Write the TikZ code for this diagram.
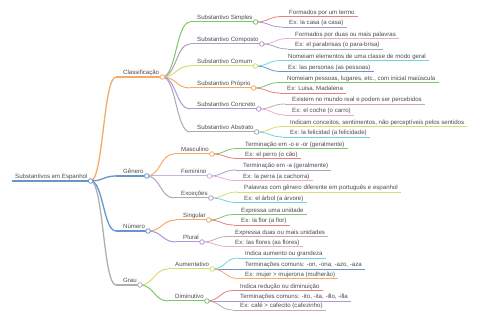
\documentclass[tikz,border=0pt]{standalone}
\usepackage{fontspec}
\setmainfont{Liberation Sans}
\usetikzlibrary{calc}
\definecolor{cblue}{HTML}{6796CA}
\definecolor{corange}{HTML}{F6AA6A}
\definecolor{cgray}{HTML}{AFAFAF}
\definecolor{cgreen}{HTML}{7CC66E}
\definecolor{cmauve}{HTML}{B09DBF}
\definecolor{colive}{HTML}{D8DD72}
\definecolor{cpurple}{HTML}{AC96DC}
\definecolor{cgpurple}{HTML}{ACA6BA}
\definecolor{clav}{HTML}{C9B1E3}
\definecolor{cred}{HTML}{EB7E7E}
\definecolor{cpink}{HTML}{F0A8D6}
\definecolor{ccyan}{HTML}{72D2E3}
\definecolor{cbrown}{HTML}{C5ABAB}
\definecolor{ctext}{HTML}{4A4A4A}
\tikzset{
  txt/.style={inner sep=0pt, text=ctext, font=\fontsize{6.1}{7}\selectfont},
  dot/.style={fill=white, line width=0.8pt},
}
% name, color, width, xs, y, text, text offset
\newcommand\mmnode[7]{%
  \coordinate (#1-s) at (#4,#5);
  \node[txt,anchor=base west] (#1) at (#4+#7,#5-2) {#6};
  \path (#1.base east) ++(3,2) coordinate (#1-e);
  \draw[#2,line width=#3] (#1-s) -- (#1-e);
}
\newcommand\mmleaf[6]{\mmnode{#1}{#2}{#3}{#4}{#5}{#6}{7}}
% color, width, parent, child
\newcommand\mmlink[4]{%
  \draw[#1,line width=#2] let \p1=(#3-e), \p2=(#4-s) in
    (\p1) .. controls ({(\x1+\x2)/2},\y1) and ({(\x1+\x2)/2},\y2) .. (\p2);
}
\newcommand\mmdot[2]{\draw[#2,dot] (#1-e) circle[radius=2.3pt];}
\begin{document}
\begin{tikzpicture}[x=1pt,y=-1pt]
\useasboundingbox (0,0) rectangle (480,320);
% root
\mmnode{r}{cblue}{1.6pt}{12}{181}{Substantivos em Espanhol}{3}
% level 1
\mmleaf{c1}{corange}{1.3pt}{116}{77}{Classificação}
\mmleaf{c2}{cblue}{1.3pt}{116}{176}{Gênero}
\mmleaf{c3}{cblue}{1.3pt}{116}{231}{Número}
\mmleaf{c4}{cgray}{1.3pt}{116}{285}{Grau}
% level 2
\mmleaf{s1}{cgreen}{1pt}{190}{22}{Substantivo Simples}
\mmleaf{s2}{cmauve}{1pt}{190}{44}{Substantivo Composto}
\mmleaf{s3}{colive}{1pt}{190}{66}{Substantivo Comum}
\mmleaf{s4}{corange}{1pt}{190}{88}{Substantivo Próprio}
\mmleaf{s5}{cpurple}{1pt}{190}{109}{Substantivo Concreto}
\mmleaf{s6}{cgpurple}{1pt}{190}{132}{Substantivo Abstrato}
\mmleaf{g1}{corange}{1pt}{174}{154}{Masculino}
\mmleaf{g2}{clav}{1pt}{174}{176}{Feminino}
\mmleaf{g3}{cgpurple}{1pt}{174}{198}{Exceções}
\mmleaf{n1}{corange}{1pt}{176}{220}{Singular}
\mmleaf{n2}{cpurple}{1pt}{176}{242}{Plural}
\mmleaf{a1}{colive}{1pt}{168}{269}{Aumentativo}
\mmleaf{a2}{cgreen}{1pt}{168}{301}{Diminutivo}
% leaves
\mmleaf{s1a}{cred}{0.8pt}{282}{16.5}{Formados por um termo}
\mmleaf{s1b}{cpurple}{0.8pt}{282}{27}{Ex: la casa (a casa)}
\mmleaf{s2a}{cpink}{0.8pt}{288}{38.5}{Formados por duas ou mais palavras}
\mmleaf{s2b}{cgpurple}{0.8pt}{288}{49}{Ex: el parabrisas (o para-brisa)}
\mmleaf{s3a}{ccyan}{0.8pt}{281}{60.5}{Nomeiam elementos de uma classe de modo geral}
\mmleaf{s3b}{cblue}{0.8pt}{281}{71.5}{Ex: las personas (as pessoas)}
\mmleaf{s4a}{cgreen}{0.8pt}{280}{82.5}{Nomeiam pessoas, lugares, etc., com inicial maiúscula}
\mmleaf{s4b}{cred}{0.8pt}{280}{93}{Ex: Luisa, Madalena}
\mmleaf{s5a}{cbrown}{0.8pt}{285}{104}{Existem no mundo real e podem ser percebidos}
\mmleaf{s5b}{cpink}{0.8pt}{285}{115}{Ex: el coche (o carro)}
\mmleaf{s6a}{colive}{0.8pt}{283}{126.5}{Indicam conceitos, sentimentos, não perceptíveis pelos sentidos}
\mmleaf{s6b}{ccyan}{0.8pt}{283}{137}{Ex: la felicidad (a felicidade)}
\mmleaf{g1a}{cgreen}{0.8pt}{238}{148.5}{Terminação em -o e -or (geralmente)}
\mmleaf{g1b}{cred}{0.8pt}{238}{158.5}{Ex: el perro (o cão)}
\mmleaf{g2a}{cmauve}{0.8pt}{236}{170}{Terminação em -a (geralmente)}
\mmleaf{g2b}{cpink}{0.8pt}{236}{180.5}{Ex: la perra (a cachorra)}
\mmleaf{g3a}{colive}{0.8pt}{237}{192}{Palavras com gênero diferente em português e espanhol}
\mmleaf{g3b}{ccyan}{0.8pt}{237}{202.5}{Ex: el árbol (a árvore)}
\mmleaf{n1a}{cgreen}{0.8pt}{234}{214.5}{Expressa uma unidade}
\mmleaf{n1b}{cred}{0.8pt}{234}{225}{Ex: la flor (a flor)}
\mmleaf{n2a}{cbrown}{0.8pt}{228}{236.5}{Expressa duas ou mais unidades}
\mmleaf{n2b}{cpink}{0.8pt}{228}{246.5}{Ex: las flores (as flores)}
\mmleaf{a1a}{ccyan}{0.8pt}{238}{258}{Indica aumento ou grandeza}
\mmleaf{a1b}{cblue}{0.8pt}{238}{269}{Terminações comuns: -on, -ona, -azo, -aza}
\mmleaf{a1c}{corange}{0.8pt}{238}{278.5}{Ex: mujer > mujerona (mulherão)}
\mmleaf{a2a}{cred}{0.8pt}{233}{290.5}{Indica redução ou diminuição}
\mmleaf{a2b}{cpurple}{0.8pt}{233}{301}{Terminações comuns: -ito, -ita, -illo, -illa}
\mmleaf{a2c}{cbrown}{0.8pt}{233}{310}{Ex: café > cafecito (cafezinho)}
% links
\mmlink{corange}{1.3pt}{r}{c1}
\mmlink{cblue}{1.3pt}{r}{c2}
\mmlink{cblue}{1.3pt}{r}{c3}
\mmlink{cgray}{1.3pt}{r}{c4}
\mmlink{cgreen}{1pt}{c1}{s1}
\mmlink{cmauve}{1pt}{c1}{s2}
\mmlink{colive}{1pt}{c1}{s3}
\mmlink{corange}{1pt}{c1}{s4}
\mmlink{cpurple}{1pt}{c1}{s5}
\mmlink{cgpurple}{1pt}{c1}{s6}
\mmlink{corange}{1pt}{c2}{g1}
\mmlink{clav}{1pt}{c2}{g2}
\mmlink{cgpurple}{1pt}{c2}{g3}
\mmlink{corange}{1pt}{c3}{n1}
\mmlink{cpurple}{1pt}{c3}{n2}
\mmlink{colive}{1pt}{c4}{a1}
\mmlink{cgreen}{1pt}{c4}{a2}
\mmlink{cred}{0.8pt}{s1}{s1a}
\mmlink{cpurple}{0.8pt}{s1}{s1b}
\mmlink{cpink}{0.8pt}{s2}{s2a}
\mmlink{cgpurple}{0.8pt}{s2}{s2b}
\mmlink{ccyan}{0.8pt}{s3}{s3a}
\mmlink{cblue}{0.8pt}{s3}{s3b}
\mmlink{cgreen}{0.8pt}{s4}{s4a}
\mmlink{cred}{0.8pt}{s4}{s4b}
\mmlink{cbrown}{0.8pt}{s5}{s5a}
\mmlink{cpink}{0.8pt}{s5}{s5b}
\mmlink{colive}{0.8pt}{s6}{s6a}
\mmlink{ccyan}{0.8pt}{s6}{s6b}
\mmlink{cgreen}{0.8pt}{g1}{g1a}
\mmlink{cred}{0.8pt}{g1}{g1b}
\mmlink{cmauve}{0.8pt}{g2}{g2a}
\mmlink{cpink}{0.8pt}{g2}{g2b}
\mmlink{colive}{0.8pt}{g3}{g3a}
\mmlink{ccyan}{0.8pt}{g3}{g3b}
\mmlink{cgreen}{0.8pt}{n1}{n1a}
\mmlink{cred}{0.8pt}{n1}{n1b}
\mmlink{cbrown}{0.8pt}{n2}{n2a}
\mmlink{cpink}{0.8pt}{n2}{n2b}
\mmlink{ccyan}{0.8pt}{a1}{a1a}
\mmlink{cblue}{0.8pt}{a1}{a1b}
\mmlink{corange}{0.8pt}{a1}{a1c}
\mmlink{cred}{0.8pt}{a2}{a2a}
\mmlink{cpurple}{0.8pt}{a2}{a2b}
\mmlink{cbrown}{0.8pt}{a2}{a2c}
% circles
\mmdot{r}{cblue}
\mmdot{c1}{corange}
\mmdot{c2}{cblue}
\mmdot{c3}{cblue}
\mmdot{c4}{cgray}
\mmdot{s1}{cgreen}
\mmdot{s2}{cmauve}
\mmdot{s3}{colive}
\mmdot{s4}{corange}
\mmdot{s5}{cpurple}
\mmdot{s6}{cgpurple}
\mmdot{g1}{corange}
\mmdot{g2}{clav}
\mmdot{g3}{cgpurple}
\mmdot{n1}{corange}
\mmdot{n2}{cpurple}
\mmdot{a1}{colive}
\mmdot{a2}{cgreen}
\end{tikzpicture}
\end{document}
